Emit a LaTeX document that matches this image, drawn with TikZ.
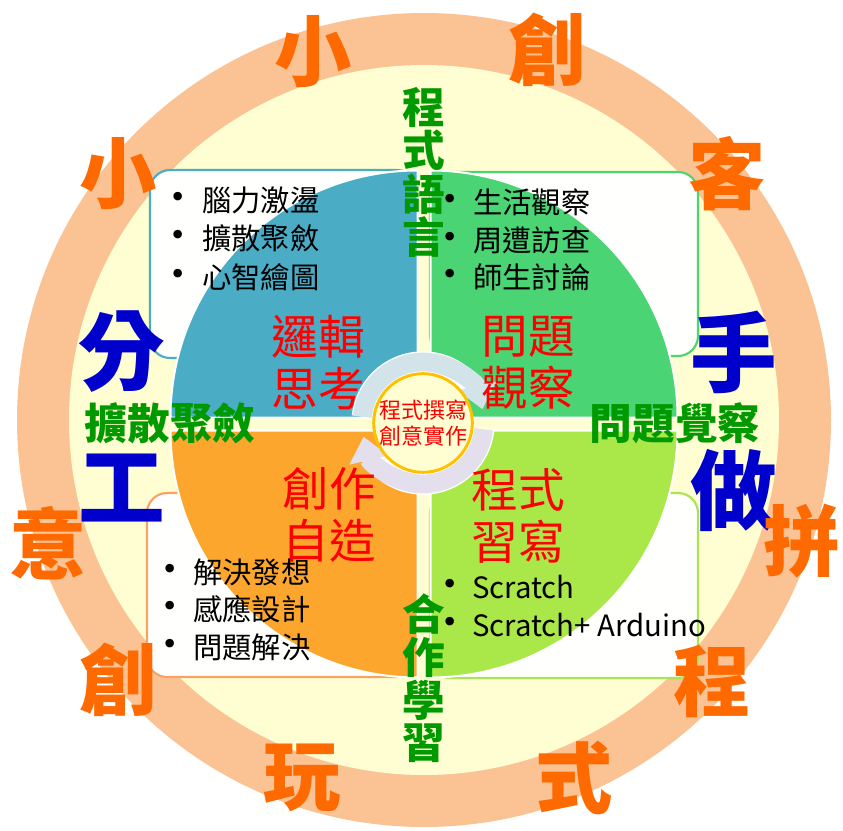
\documentclass[tikz,border=0pt]{standalone}
\usepackage{fontspec}
\setmainfont{Noto Sans CJK TC}
\newfontfamily\bulfont{DejaVu Sans}
\usetikzlibrary{arrows.meta}
\definecolor{ringC}{HTML}{FBC393}
\definecolor{yelC}{HTML}{FFFED2}
\definecolor{qBlue}{HTML}{4BACC6}
\definecolor{qGreen}{HTML}{4AD474}
\definecolor{qOrange}{HTML}{FCA62E}
\definecolor{qLime}{HTML}{AAE84A}
\definecolor{bBlue}{HTML}{4BACC6}
\definecolor{bGreen}{HTML}{4CD46E}
\definecolor{bOrange}{HTML}{F8A266}
\definecolor{bLime}{HTML}{AAE452}
\definecolor{txtOrange}{HTML}{FF6A00}
\definecolor{txtGreen}{HTML}{009A00}
\definecolor{txtBlue}{HTML}{0000CC}
\definecolor{arrA}{HTML}{D2E3EA}
\definecolor{arrB}{HTML}{E3DFEC}
\definecolor{ctrBorder}{HTML}{FFC000}
\definecolor{boxFill}{HTML}{FFFFFD}
\begin{document}
\begin{tikzpicture}[x=0.75pt,y=-0.75pt,
  every node/.style={inner sep=0pt, outer sep=0pt},
  boxbase/.style={fill=boxFill, line width=1.6pt, rounded corners=15pt},
  quad/.style={draw=white, line width=1.5pt},
  ochar/.style={font=\bfseries\fontsize{58}{58}\selectfont, text=txtOrange},
  bchar/.style={font=\bfseries\fontsize{65}{65}\selectfont, text=txtBlue},
  gchar/.style={font=\bfseries\fontsize{32}{32}\selectfont, text=txtGreen},
  rtitle/.style={font=\fontsize{35}{39}\selectfont, text=red, align=center},
  bul/.style={font=\bulfont\fontsize{22}{22}\selectfont, text=black},
  item/.style={font=\fontsize{22}{22}\selectfont, text=black, anchor=west},
  ctext/.style={font=\fontsize{16.5}{20}\selectfont, text=red, align=center}
]
\useasboundingbox (0,0) rectangle (843,831);
\fill[white] (0,0) rectangle (843,831);
% rings
\fill[ringC] (424,420) circle[radius=407];
\fill[yelC] (424,420) circle[radius=355];
% boxes
\draw[boxbase, draw=bBlue] (150,170) rectangle (417,358);
\draw[boxbase, draw=bGreen] (430,172) rectangle (698,356);
\draw[boxbase, draw=bOrange] (147,493) rectangle (417,677);
\draw[boxbase, draw=bLime] (430,493) rectangle (698,678);
% quadrants
\fill[quad, fill=qBlue] (417.5,417.5) -- +(-247,0) arc[start angle=180, end angle=270, radius=247] -- cycle;
\fill[quad, fill=qGreen] (430.5,417.5) -- +(0,-247) arc[start angle=270, end angle=360, radius=247] -- cycle;
\fill[quad, fill=qLime] (430.5,430.5) -- +(247,0) arc[start angle=0, end angle=90, radius=247] -- cycle;
\fill[quad, fill=qOrange] (417.5,430.5) -- +(0,247) arc[start angle=90, end angle=180, radius=247] -- cycle;
% circular arrows
\coordinate (cc) at (423,423);
\draw[white, line width=16pt] (cc) ++(186:61) arc[start angle=186, end angle=330, radius=61];
\draw[white, line width=16pt] (cc) ++(6:61) arc[start angle=6, end angle=150, radius=61];
\draw[arrA, line width=14pt, -{Triangle[length=18pt,width=29pt]}] (cc) ++(186:61) arc[start angle=186, end angle=347, radius=61];
\draw[arrB, line width=14pt, -{Triangle[length=18pt,width=29pt]}] (cc) ++(6:61) arc[start angle=6, end angle=167, radius=61];
% center circle
\node[circle, fill=yelC, draw=ctrBorder, line width=2.2pt, minimum size=74pt] (ctr) at (cc) {};
\node[ctext] (ctrtxt) at (423,423) {程式撰寫\\創意實作};
% red titles
\node[rtitle] (t1) at (318,363) {邏輯\\思考};
\node[rtitle] (t2) at (528,363) {問題\\觀察};
\node[rtitle] (t3) at (329,515) {創作\\自造};
\node[rtitle] (t4) at (518,516) {程式\\習寫};
% bullet lists
\foreach \nm/\bx/\tx/\yy/\tt in {a1/178/202/200/腦力激盪, a2/178/202/238/擴散聚斂, a3/178/202/277/心智繪圖,
  b1/450/473/202/生活觀察, b2/450/473/240/周遭訪查, b3/450/473/277/師生討論,
  c1/170/193/572/解決發想, c2/170/193/609/感應設計, c3/170/193/647/問題解決,
  d1/450/472/587/Scratch, d2/450/472/625/{Scratch+ Arduino}}{
  \node[bul] (\nm b) at (\bx,\yy) {•};
  \node[item] (\nm) at (\tx,\yy) {\tt};
}
% green labels
\foreach \nm/\yy/\ch in {g1/107/程, g2/150.5/式, g3/194/語, g4/237.5/言, h1/614/合, h2/657/作, h3/700/學, h4/743/習}{
  \node[gchar] (\nm) at (424,\yy) {\ch};
}
\node[gchar] (g5) at (170,423) {擴散聚斂};
\node[gchar] (g6) at (675,423) {問題覺察};
% blue chars
\node[bchar] (p1) at (122,352) {分};
\node[bchar] (p2) at (122,488) {工};
\node[bchar] (p3) at (734,352) {手};
\node[bchar] (p4) at (734,491) {做};
% outer ring chars
\foreach \nm/\xx/\yy/\ch in {o1/313/52/小, o2/547/50/創, o3/727/174/客, o4/802/541/拼, o5/712/681/程,
  o6/574/778/式, o7/302/778/玩, o8/118/680/創, o9/48/543/意, o10/118/174/小}{
  \node[ochar] (\nm) at (\xx,\yy) {\ch};
}
\end{tikzpicture}
\end{document}
